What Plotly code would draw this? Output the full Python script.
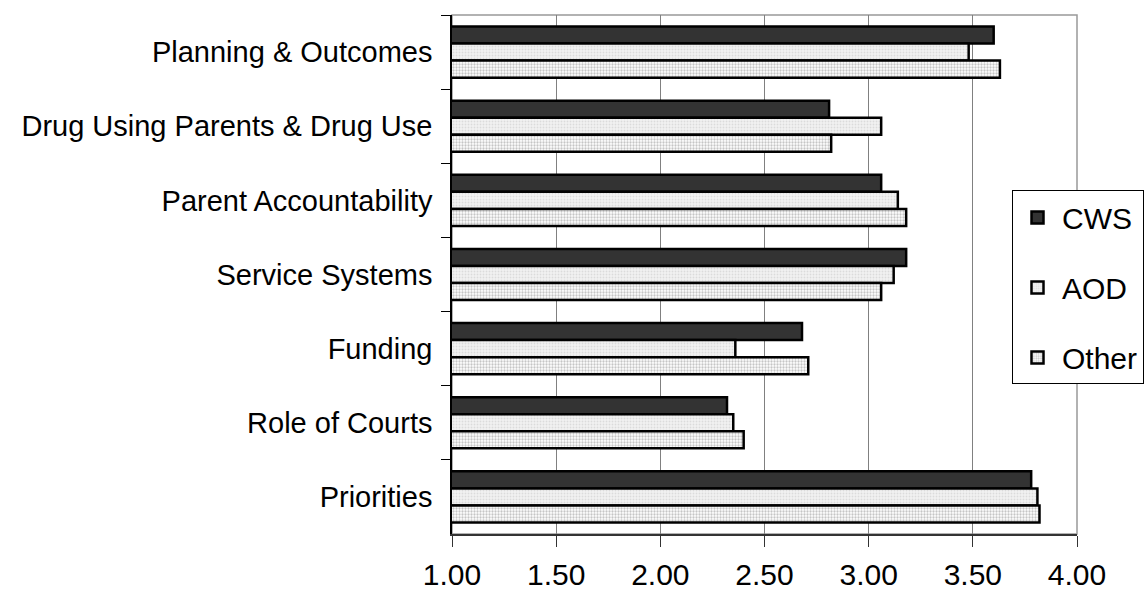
import plotly.graph_objects as go

categories = ["Planning & Outcomes", "Drug Using Parents & Drug Use", "Parent Accountability",
              "Service Systems", "Funding", "Role of Courts", "Priorities"]
cws = [3.60, 2.81, 3.06, 3.18, 2.68, 2.32, 3.78]
aod = [3.48, 3.06, 3.14, 3.12, 2.36, 2.35, 3.81]
other = [3.63, 2.82, 3.18, 3.06, 2.71, 2.40, 3.82]
x_ticks = [1.0, 1.5, 2.0, 2.5, 3.0, 3.5, 4.0]

FONT = "Liberation Sans, Arial, sans-serif"

fig = go.Figure()
fig.add_trace(go.Bar(
    y=categories, x=cws, name="CWS", orientation="h", legendgroup="a",
    marker=dict(color="#333333", line=dict(color="#000000", width=2.5)),
))
fig.add_trace(go.Bar(
    y=categories, x=aod, name="AOD", orientation="h", legendgroup="b",
    marker=dict(color="#eeeeee", line=dict(color="#000000", width=2.5),
                pattern=dict(shape=".", bgcolor="#f2f2f2", fgcolor="#c4c4c4", size=3, solidity=0.3)),
))
fig.add_trace(go.Bar(
    y=categories, x=other, name="Other", orientation="h", legendgroup="c",
    marker=dict(color="#ffffff", line=dict(color="#000000", width=2.5),
                pattern=dict(shape=".", bgcolor="#ffffff", fgcolor="#8c8c8c", size=3, solidity=0.45)),
))

fig.update_layout(
    width=1144, height=591,
    margin=dict(l=452, r=67, t=15, b=57, autoexpand=False),
    paper_bgcolor="white", plot_bgcolor="white",
    barmode="group", bargap=0.31, bargroupgap=0,
    font=dict(family=FONT, size=29, color="#000000"),
    showlegend=True,
    legend=dict(x=0.896, y=0.662, xanchor="left", yanchor="top",
                bgcolor="white", bordercolor="#000000", borderwidth=1,
                font=dict(size=30, family=FONT), tracegroupgap=28,
                itemwidth=39, traceorder="grouped"),
    xaxis=dict(range=[1, 4], tickvals=x_ticks, tickformat=".2f", automargin=False,
               showgrid=True, gridcolor="#808080", gridwidth=1,
               showline=True, linecolor="#333333", linewidth=1.5,
               ticks="outside", ticklen=11, tickcolor="#333333", tickwidth=1,
               ticklabelstandoff=2, zeroline=False,
               tickfont=dict(size=30, family=FONT)),
    yaxis=dict(autorange="reversed", type="category", automargin=False,
               showline=True, linecolor="#000000", linewidth=1.5,
               ticks="outside", tickson="boundaries", ticklen=9, tickcolor="#000000",
               tickwidth=1, showgrid=False, ticklabelstandoff=12,
               tickfont=dict(size=29, family=FONT)),
    shapes=[dict(type="rect", xref="paper", yref="paper", x0=0, x1=1, y0=0, y1=1,
                 line=dict(color="#999999", width=1.5), layer="below")],
)

fig.write_html("out.html")
